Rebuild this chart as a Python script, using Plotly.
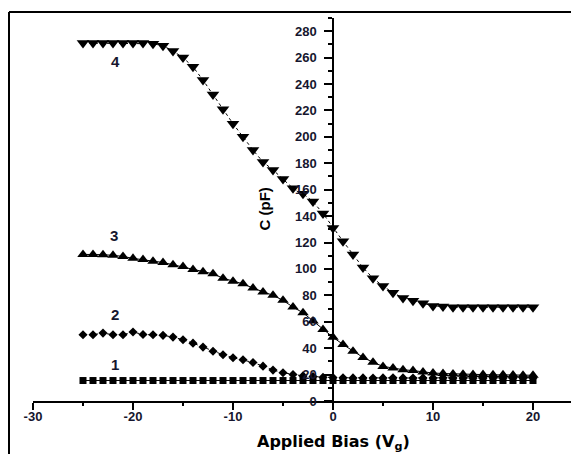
import plotly.graph_objects as go

bias = [-25, -24, -23, -22, -21, -20, -19, -18, -17, -16, -15, -14, -13, -12, -11, -10,
        -9, -8, -7, -6, -5, -4, -3, -2, -1, 0, 1, 2, 3, 4, 5, 6, 7, 8, 9, 10,
        11, 12, 13, 14, 15, 16, 17, 18, 19, 20]

c4 = [271, 271, 271, 271, 271, 271, 271, 270.5, 269, 265, 260, 253, 243, 232, 221, 210,
      200, 190, 181, 175, 168, 161, 157, 151, 142, 131, 121, 111, 101, 93, 87, 82, 78, 76, 74, 72,
      71.5, 71, 71, 71, 71, 71, 71, 71, 71, 71]

c3 = [111, 111, 110.8, 110.3, 109.5, 108, 107.2, 105.9, 104.9, 103.1, 101.8, 99.5, 97.8, 96.3, 93, 90.7,
      88.7, 85.5, 82.6, 80, 76.2, 71.1, 66.8, 60.5, 54.1, 48.3, 42.8, 37.7, 33, 29.3, 26.2, 25, 23.7, 23, 21.9, 21.2,
      20.8, 20.5, 20.3, 20, 20, 19.8, 19.8, 19.6, 19.5, 19.5]

c2 = [50.2, 50.2, 51.4, 50.2, 50.2, 52.2, 50.4, 50.2, 49.7, 48.4, 46.4, 43.8, 40.8, 37.7, 35, 32.8,
      31.2, 29.2, 26.4, 23.4, 21.4, 20, 19, 18.5, 18, 17.8, 17.6, 17.5, 17.5, 17.4, 17.5, 17.6, 17.5, 17.4, 17.5, 17.5,
      17.6, 17.5, 17.4, 17.5, 17.5, 17.6, 17.5, 17.5, 17.4, 17.5]

c1 = [15.5, 15.5, 15.5, 15.5, 15.5, 15.5, 15.5, 15.5, 15.5, 15.5, 15.5, 15.5, 15.5, 15.5, 15.5, 15.5,
      15.5, 15.5, 15.5, 15.5, 15.5, 15.5, 15.5, 15.5, 15.5, 15.5, 15.5, 15.5, 15.5, 15.5, 15.5, 15.5, 15.5, 15.5, 15.5, 15.5,
      15.5, 15.5, 15.5, 15.5, 15.5, 15.5, 15.5, 15.5, 15.5, 15.5]

x_ticks = [-30, -20, -10, 0, 10, 20]
y_ticks = [0, 20, 40, 60, 80, 100, 120, 140, 160, 180, 200, 220, 240, 260, 280]

curve_labels = ["1", "2", "3", "4"]
label_x = [-21.8, -21.8, -21.9, -21.8]
label_y = [27.6, 65.5, 125.3, 256.7]

# page body has an 8px margin; figure occupies window pixels 8..579 / 8..454
OFF = 8
W, H = 579 - OFF, 454 - OFF
ML, MR, MT = 33 - OFF, 0, 18 - OFF
PH = 383
MB = H - MT - PH
XR = [-30, 24.6]
YR = [0, 290]

TXT = "#16162e"
FONT = "Liberation Sans"

fig = go.Figure()

fig.add_trace(go.Scatter(x=bias, y=c1, mode="lines+markers",
                         line=dict(color="black", width=1),
                         marker=dict(symbol="square", size=7, color="black"),
                         showlegend=False))
fig.add_trace(go.Scatter(x=bias, y=c2, mode="lines+markers",
                         line=dict(color="black", width=1, dash="dot"),
                         marker=dict(symbol="diamond", size=7, color="black"),
                         showlegend=False))
fig.add_trace(go.Scatter(x=bias, y=c3, mode="lines+markers",
                         line=dict(color="black", width=1),
                         marker=dict(symbol="triangle-up", size=10, color="black"),
                         showlegend=False))
fig.add_trace(go.Scatter(x=bias, y=c4, mode="lines+markers",
                         line=dict(color="black", width=1, dash="dot"),
                         marker=dict(symbol="triangle-down", size=11, color="black"),
                         showlegend=False))

for t, lx, ly in zip(curve_labels, label_x, label_y):
    fig.add_annotation(x=lx, y=ly, xref="x", yref="y", text=t, showarrow=False,
                       font=dict(family=FONT, size=15, color=TXT, weight="bold"))

pw = W - ML - MR
ph = PH

# axis titles (window pixel positions converted to paper coords)
title_y_px = 442 - OFF
fig.add_annotation(x=0, xref="x", y=-(title_y_px - (MT + ph)) / ph, yref="paper",
                   text="Applied Bias (V<sub>g</sub>)", showarrow=False,
                   xanchor="center", yanchor="middle",
                   font=dict(family="DejaVu Sans", size=16, color="black", weight="bold"))
fig.add_annotation(x=-6.9, xref="x", y=145, yref="y", text="C (pF)", textangle=-90,
                   showarrow=False, xanchor="center", yanchor="middle",
                   font=dict(family=FONT, size=15, color="black", weight="bold"))

# outer frame lines (left and top)
fx = (1 - ML) / pw
fy = 1 + (MT - 4) / ph
fig.add_shape(type="line", xref="paper", yref="paper",
              x0=fx, x1=fx, y0=-(H - MT - ph + 5) / ph, y1=fy,
              line=dict(color="black", width=2))
fig.add_shape(type="line", xref="paper", yref="paper",
              x0=fx, x1=1.02, y0=fy, y1=fy,
              line=dict(color="black", width=2))

fig.update_layout(
    width=W, height=H,
    margin=dict(l=ML, r=MR, t=MT, b=MB, pad=0),
    plot_bgcolor="white", paper_bgcolor="white",
    showlegend=False,
    xaxis=dict(range=XR, tickvals=x_ticks, ticktext=[str(v) for v in x_ticks],
               showgrid=False, zeroline=False, showline=True, linecolor="black", linewidth=1.5,
               ticks="outside", ticklen=7, tickwidth=1.5, tickcolor="black",
               minor=dict(dtick=5, ticklen=3, tickwidth=1.5, tickcolor="black", showgrid=False, ticks="outside"),
               tickfont=dict(family=FONT, size=13, color=TXT, weight="bold"),
               ticklabelstandoff=-4,
               fixedrange=True),
    yaxis=dict(range=YR, tickvals=y_ticks, ticktext=[str(v) for v in y_ticks],
               anchor="free", position=30 / 54.6,
               showgrid=False, zeroline=False, showline=True, linecolor="black", linewidth=1.5,
               ticks="outside", ticklen=8, tickwidth=1.5, tickcolor="black",
               minor=dict(dtick=10, ticklen=4, tickwidth=1.5, tickcolor="black", showgrid=False, ticks="outside"),
               tickfont=dict(family=FONT, size=13, color=TXT, weight="bold"),
               ticklabelstandoff=5,
               fixedrange=True),
)

fig.write_html("out.html")
